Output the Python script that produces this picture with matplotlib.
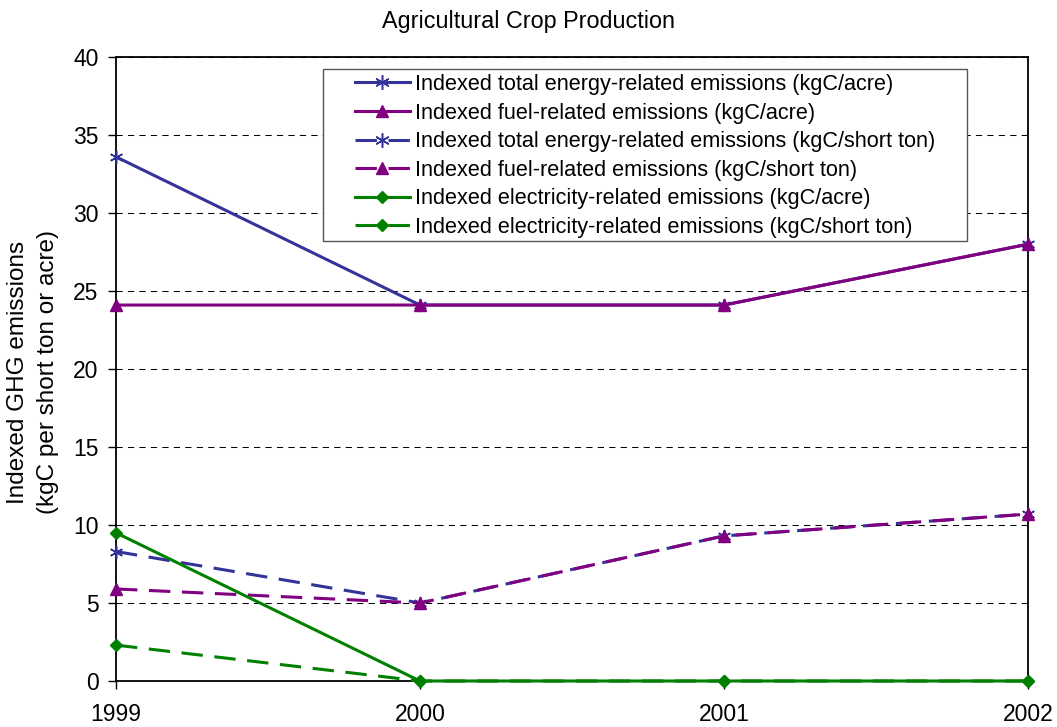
import matplotlib
matplotlib.use("Agg")
import matplotlib.pyplot as plt
from matplotlib.patches import Rectangle

plt.rcParams['font.family'] = ['Liberation Sans', 'DejaVu Sans']

years = [1999, 2000, 2001, 2002]
total_acre = [33.6, 24.1, 24.1, 28.0]
fuel_acre = [24.1, 24.1, 24.1, 28.0]
total_ton = [8.3, 5.0, 9.3, 10.7]
fuel_ton = [5.9, 5.0, 9.3, 10.7]
elec_acre = [9.5, 0.0, 0.0, 0.0]
elec_ton = [2.3, 0.0, 0.0, 0.0]

labels = [
    "Indexed total energy-related emissions (kgC/acre)",
    "Indexed fuel-related emissions (kgC/acre)",
    "Indexed total energy-related emissions (kgC/short ton)",
    "Indexed fuel-related emissions (kgC/short ton)",
    "Indexed electricity-related emissions (kgC/acre)",
    "Indexed electricity-related emissions (kgC/short ton)",
]

BLUE = "#333399"
PURPLE = "#800080"
GREEN = "#008000"

W, H = 1057, 727
fig = plt.figure(figsize=(W / 100, H / 100), dpi=100)
L, R, T, B = 116, 1028, 57, 681
ax = fig.add_axes([L / W, 1 - B / H, (R - L) / W, (B - T) / H])

star = (6, 2, 0)
lw = 2.2
dash = (7.0, 3.8)
series = [
    (total_acre, BLUE, star, '-', 9.5),
    (fuel_acre, PURPLE, '^', '-', 8.5),
    (total_ton, BLUE, star, '--', 9.5),
    (fuel_ton, PURPLE, '^', '--', 8.5),
    (elec_acre, GREEN, 'D', '-', 5.8),
    (elec_ton, GREEN, 'D', '--', 5.8),
]
for (vals, col, mk, ls, ms), lab in zip(series, labels):
    kw = dict(color=col, lw=lw, marker=mk, markersize=ms, label=lab,
              markerfacecolor=col, markeredgecolor=col, clip_on=False, zorder=3)
    if ls == '--':
        kw['dashes'] = dash
    else:
        kw['linestyle'] = '-'
    if mk == star:
        kw['markeredgewidth'] = 1.1
    ax.plot(years, vals, **kw)

ax.set_xlim(1999, 2002)
ax.set_ylim(0, 40)
ax.set_yticks(range(0, 41, 5))
ax.set_xticks(years)
ax.tick_params(axis='both', labelsize=16.5, direction='out', length=5.5, width=1)
ax.tick_params(axis='y', pad=7)
ax.tick_params(axis='x', pad=10)
ax.yaxis.grid(True, color='black', linestyle=(0, (6, 5)), linewidth=0.75)
ax.set_axisbelow(True)
for s in ax.spines.values():
    s.set_color('black')
    s.set_linewidth(1.3)

fig.text(33 / W, 1 - 372 / H, "Indexed GHG emissions\n(kgC per short ton or acre)",
         rotation=90, ha='center', va='center', fontsize=17.5, linespacing=1.5)
fig.text(0.5, 1 - 28 / H, "Agricultural Crop Production", ha='center', va='baseline',
         fontsize=16.8)

# legend frame
frame = Rectangle((323 / W, 1 - 241 / H), (967 - 323) / W, (241 - 69) / H,
                  transform=fig.transFigure, facecolor='white',
                  edgecolor='#555555', linewidth=1.0, zorder=4, clip_on=False)
ax.add_patch(frame)
leg = ax.legend(loc='upper left', bbox_to_anchor=(355 / W, 1 - 74 / H),
                bbox_transform=fig.transFigure, fontsize=15.6,
                frameon=False, handlelength=2.53, handletextpad=0.23,
                labelspacing=0.35, borderpad=0, borderaxespad=0, markerscale=1.1)
leg.set_zorder(5)

fig.savefig("out.png", dpi=100)
